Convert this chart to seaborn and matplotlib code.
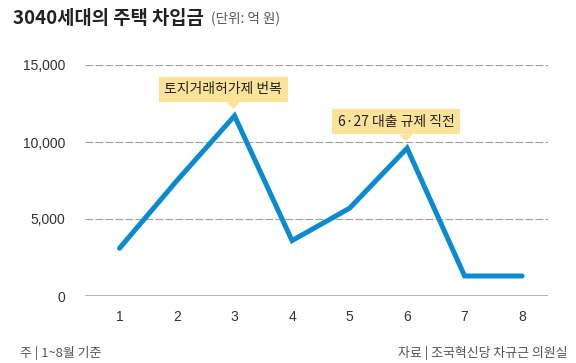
import matplotlib
matplotlib.use("Agg")
import matplotlib.pyplot as plt
import pandas as pd
import seaborn as sns

# data (억 원)
months = [1, 2, 3, 4, 5, 6, 7, 8]
loans = [3100, 7500, 11700, 3600, 5700, 9600, 1300, 1300]
y_ticks = [0, 5000, 10000, 15000]
y_tick_labels = ["0", "5,000", "10,000", "15,000"]

title = "3040세대의 주택 차입금"
unit = "(단위: 억 원)"
note_left = "주 | 1~8월 기준"
note_right = "자료 | 조국혁신당 차규근 의원실"
callouts = [(3, "토지거래허가제 번복"), (6, "6·27 대출 규제 직전")]

df = pd.DataFrame({"month": months, "loan": loans})

#
# Plot
#
sns.set_style("white")
plt.rcParams["font.family"] = ["Noto Sans CJK KR", "DejaVu Sans"]

blue = "#0a8bd0"
yellow = "#fde29a"

fig = plt.figure(figsize=(5.76, 3.63), dpi=100)
ax = fig.add_axes([85 / 576, 1 - 296 / 363, (548 - 85) / 576, (296 - 65) / 363])

sns.lineplot(data=df, x="month", y="loan", ax=ax, color=blue, linewidth=3.6,
             solid_joinstyle="miter", solid_capstyle="round", zorder=3)

ax.set_xlim(0.4, 8.45)
ax.set_ylim(0, 15000)
ax.set_xticks(months)
ax.set_xticklabels([str(m) for m in months])
ax.set_yticks(y_ticks)
ax.set_yticklabels(y_tick_labels)
ax.set_xlabel("")
ax.set_ylabel("")

for y in y_ticks[1:]:
    ax.axhline(y, color="#a0a0a0", lw=0.8, ls=(0, (7, 2)), zorder=1)
ax.axhline(0, color="#a8a8a8", lw=1.2, zorder=1)

for side in ["top", "right", "left", "bottom"]:
    ax.spines[side].set_visible(False)

ax.tick_params(axis="y", length=0, pad=14, labelsize=10, labelcolor="#333333")
ax.tick_params(axis="x", length=0, pad=10, labelsize=10, labelcolor="#333333")
for lab in ax.get_xticklabels() + ax.get_yticklabels():
    lab.set_family(["Liberation Sans", "DejaVu Sans"])

# callout boxes over the two peaks, box shifted a bit left of the pointer
for m, text in callouts:
    v = loans[months.index(m)]
    ax.annotate(text, xy=(m, v), xytext=(-8, 14), textcoords="offset points",
                ha="center", va="bottom", fontsize=10, color="#222222",
                bbox=dict(boxstyle="square,pad=0.4", fc=yellow, ec="none"),
                arrowprops=dict(arrowstyle="wedge,tail_width=1.0,shrink_factor=0.5",
                                fc=yellow, ec="none", shrinkA=0, shrinkB=5,
                                relpos=(0.58, 0)),
                annotation_clip=False, zorder=4)

fig.text(13 / 576, 1 - 24 / 363, title, fontsize=13.5, fontweight="bold",
         color="#222222", va="baseline", ha="left")
fig.text(211 / 576, 1 - 23 / 363, unit, fontsize=9.8, color="#555555",
         va="baseline", ha="left")
fig.text(20 / 576, 1 - 357 / 363, note_left, fontsize=9.3, color="#555555",
         va="baseline", ha="left")
fig.text(567 / 576, 1 - 357 / 363, note_right, fontsize=9.3, color="#555555",
         va="baseline", ha="right")

fig.savefig("out.png", dpi=100)
